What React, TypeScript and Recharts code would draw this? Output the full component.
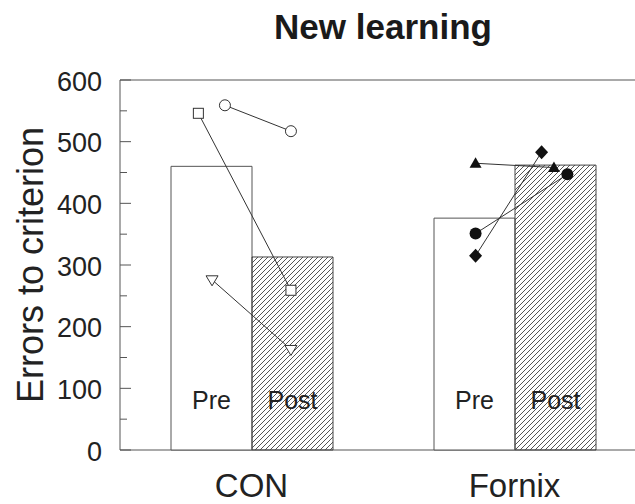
import React from 'react';
import {
  ComposedChart, Bar, Scatter, XAxis, YAxis, ReferenceArea, LabelList,
} from 'recharts';

// group means
const groups = ['CON', 'Fornix'];
const preMeans = [460, 376];
const postMeans = [313, 462];
const phaseLabels = ['Pre', 'Post'];
const yTicks = [0, 50, 100, 150, 200, 250, 300, 350, 400, 450, 500, 550, 600];

// individual animals: x is position on a 0..2 group scale (CON = 0..1, Fornix = 1..2)
const conSquare = [{ x: 0.298, y: 546 }, { x: 0.65, y: 259 }];
const conCircle = [{ x: 0.399, y: 559 }, { x: 0.65, y: 517 }];
const conTriangle = [{ x: 0.35, y: 276 }, { x: 0.65, y: 163 }];
const fxTriangle = [{ x: 1.352, y: 465 }, { x: 1.65, y: 458 }];
const fxDiamond = [{ x: 1.352, y: 315 }, { x: 1.603, y: 483 }];
const fxCircle = [{ x: 1.352, y: 351 }, { x: 1.701, y: 447 }];

const chartData = groups.map((g, i) => ({ group: g, pre: preMeans[i], post: postMeans[i] }));

const FONT = '"Liberation Sans", Arial, Helvetica, sans-serif';
const INK = '#333';

const openSquare = (p: any) => <rect x={p.cx - 5} y={p.cy - 5} width={10} height={10} fill="#fff" stroke={INK} strokeWidth={1} />;
const openCircle = (p: any) => <circle cx={p.cx} cy={p.cy} r={5.5} fill="#fff" stroke={INK} strokeWidth={1} />;
const openTriDown = (p: any) => (
  <path d={`M${p.cx - 6},${p.cy - 4} L${p.cx + 6},${p.cy - 4} L${p.cx},${p.cy + 6} Z`} fill="#fff" stroke={INK} strokeWidth={1} />
);
const filledTriUp = (p: any) => (
  <path d={`M${p.cx - 6},${p.cy + 4.5} L${p.cx + 6},${p.cy + 4.5} L${p.cx},${p.cy - 6} Z`} fill="#111" />
);
const filledDiamond = (p: any) => (
  <path d={`M${p.cx},${p.cy - 7} L${p.cx + 6.5},${p.cy} L${p.cx},${p.cy + 7} L${p.cx - 6.5},${p.cy} Z`} fill="#111" />
);
const filledCircle = (p: any) => <circle cx={p.cx} cy={p.cy} r={6} fill="#111" />;

const YTick = (props: any) => {
  const { x, y, payload } = props;
  const major = payload.value % 100 === 0;
  return (
    <g>
      <line x1={x} x2={x + (major ? 11 : 7)} y1={y} y2={y} stroke="#555" strokeWidth={1} />
      {major && (
        <text x={x - 18} y={y} dy="0.4em" textAnchor="end" fontSize={27} fill="#222" fontFamily={FONT}>
          {payload.value}
        </text>
      )}
    </g>
  );
};

const XTick = (props: any) => {
  const { x, y, payload } = props;
  return (
    <text x={x} y={y + 47} textAnchor="middle" fontSize={33} fill="#222" fontFamily={FONT}>
      {payload.value}
    </text>
  );
};

const phaseLabel = (text: string) => (props: any) => {
  const { x, y, width, height } = props;
  return (
    <text x={x + width / 2} y={y + height - 41} textAnchor="middle" fontSize={25} fill="#222" fontFamily={FONT}>
      {text}
    </text>
  );
};

const YLabel = (props: any) => {
  const { viewBox } = props;
  const cx = viewBox.x + 30;
  const cy = viewBox.y + viewBox.height / 2;
  return (
    <text x={cx} y={cy} dy="0.36em" transform={`rotate(-90, ${cx}, ${cy})`} textAnchor="middle" fontSize={36} fill="#222" fontFamily={FONT}>
      Errors to criterion
    </text>
  );
};

const subjects = [
  { data: conSquare, shape: openSquare },
  { data: conCircle, shape: openCircle },
  { data: conTriangle, shape: openTriDown },
  { data: fxTriangle, shape: filledTriUp },
  { data: fxDiamond, shape: filledDiamond },
  { data: fxCircle, shape: filledCircle },
];

export default function App() {
  return (
    <div style={{ position: 'fixed', left: 0, top: 0, width: 635, height: 504, overflow: 'hidden', background: '#fff' }}>
      <div
        style={{
          position: 'absolute', left: 383, top: 9, transform: 'translateX(-50%)', fontFamily: FONT,
          fontSize: 35, fontWeight: 'bold', lineHeight: '35px', whiteSpace: 'nowrap', color: '#1a1a1a',
        }}
      >
        New learning
      </div>
      <ComposedChart width={660} height={504} data={chartData} margin={{ top: 80, right: 14, bottom: 0, left: 0 }} barGap={0}>
        <defs>
          <pattern id="hatch" patternUnits="userSpaceOnUse" width={5} height={5}>
            <path d="M0,5 L5,0 M-1,1 L1,-1 M4,6 L6,4" stroke="#555" strokeWidth={1} />
          </pattern>
        </defs>
        <XAxis dataKey="group" xAxisId={0} axisLine={false} tickLine={false} tickSize={0} tickMargin={0} height={54} tick={<XTick />} interval={0} />
        <XAxis xAxisId="n" type="number" dataKey="x" domain={[0, 2]} hide allowDataOverflow />
        <YAxis
          yAxisId={0} type="number" domain={[0, 600]} ticks={yTicks} interval={0} width={120}
          axisLine={false} tickLine={false} tickSize={0} tickMargin={0} tick={<YTick />}
          label={<YLabel />}
        />
        <YAxis yAxisId="n" type="number" dataKey="y" domain={[0, 600]} hide allowDataOverflow />
        <Bar dataKey="pre" xAxisId={0} yAxisId={0} barSize={81} fill="#fff" stroke="#555" strokeWidth={1} isAnimationActive={false}>
          <LabelList dataKey="pre" content={phaseLabel(phaseLabels[0])} />
        </Bar>
        <Bar dataKey="post" xAxisId={0} yAxisId={0} barSize={81} fill="url(#hatch)" stroke="#444" strokeWidth={1} isAnimationActive={false}>
          <LabelList dataKey="post" content={phaseLabel(phaseLabels[1])} />
        </Bar>
        <ReferenceArea xAxisId="n" yAxisId="n" x1={0} x2={2} y1={0} y2={600} fill="none" fillOpacity={0} stroke="#555" strokeWidth={1} />
        {subjects.map((s, i) => (
          <Scatter
            key={i}
            data={s.data}
            xAxisId="n"
            yAxisId="n"
            line={{ stroke: INK, strokeWidth: 1 }}
            shape={s.shape}
            isAnimationActive={false}
          />
        ))}
      </ComposedChart>
    </div>
  );
}
